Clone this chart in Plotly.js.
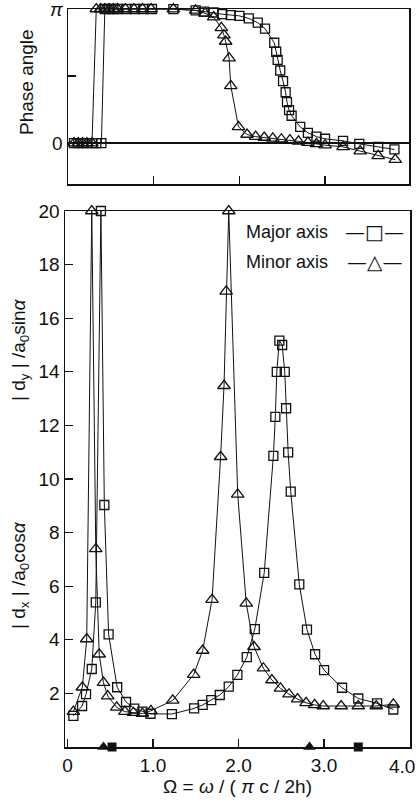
<!DOCTYPE html>
<html>
<head>
<meta charset="utf-8">
<script src="https://cdn.plot.ly/plotly-3.0.1.min.js"></script>
<style>html,body{margin:0;padding:0;background:#fff;}#chart{width:419px;height:809px;}</style>
</head>
<body>
<div id="chart"></div>
<script>
const PI = Math.PI;

// ---- Phase angle panel ----
const phaseMajorX = [0.07,0.12,0.17,0.22,0.28,0.33,0.39,0.43,0.48,0.53,0.58,0.68,0.78,0.88,0.98,1.23,1.49,1.585,1.70,1.80,1.90,2.00,2.11,2.215,2.30,2.407,2.43,2.447,2.477,2.51,2.54,2.556,2.58,2.61,2.71,2.80,2.90,3.00,3.21,3.40,3.62,3.81];
const phaseMajorY = [0,0,0,0,0,0,0,PI,PI,PI,PI,PI,PI,PI,PI,3.14,3.11,3.08,3.06,3.02,3.00,2.98,2.92,2.82,2.68,2.35,2.14,1.95,1.70,1.45,1.19,0.96,0.77,0.64,0.38,0.24,0.15,0.10,0.05,-0.02,-0.09,-0.15];
const phaseMinorX = [0.07,0.12,0.17,0.22,0.28,0.33,0.38,0.43,0.48,0.53,0.58,0.67,0.77,0.87,0.97,1.23,1.49,1.60,1.70,1.79,1.82,1.84,1.88,1.90,1.99,2.09,2.19,2.29,2.39,2.49,2.59,2.69,2.80,2.90,3.00,3.21,3.41,3.62,3.82];
const phaseMinorY = [0,0,0,0,0,PI,PI,PI,PI,PI,PI,PI,PI,PI,PI,3.14,3.11,3.04,2.95,2.70,2.53,2.38,1.99,1.34,0.38,0.20,0.15,0.13,0.11,0.09,0.07,0.04,0.01,-0.02,-0.05,-0.09,-0.19,-0.30,-0.39];

// ---- Amplitude panel ----
const ampMajorX = [0.068,0.17,0.216,0.283,0.33,0.39,0.43,0.48,0.58,0.684,0.78,0.875,0.97,1.22,1.48,1.58,1.68,1.78,1.885,1.986,2.096,2.19,2.30,2.407,2.43,2.447,2.477,2.51,2.54,2.556,2.58,2.61,2.71,2.80,2.895,3.00,3.21,3.40,3.62,3.81];
const ampMajorY = [1.16,1.53,1.97,2.91,5.4,20,9.03,4.2,2.23,1.68,1.43,1.32,1.24,1.23,1.44,1.57,1.75,1.94,2.25,2.69,3.35,4.4,6.5,10.86,12.32,14.0,15.16,15.0,14.0,12.64,10.99,9.53,6.07,4.38,3.46,2.87,2.21,1.81,1.63,1.40];
const ampMinorX = [0.068,0.173,0.224,0.283,0.33,0.37,0.42,0.47,0.575,0.67,0.77,0.875,0.975,1.23,1.475,1.58,1.69,1.79,1.83,1.855,1.885,1.99,2.09,2.18,2.29,2.39,2.49,2.59,2.69,2.79,2.89,2.99,3.20,3.40,3.61,3.81];
const ampMinorY = [1.32,2.23,4.03,20,7.39,3.46,2.4,1.9,1.48,1.32,1.28,1.25,1.35,1.74,2.7,3.6,5.5,10.83,13.48,17.0,20,9.43,5.36,3.74,2.94,2.5,2.19,1.97,1.79,1.65,1.57,1.53,1.53,1.53,1.53,1.59];

// resonance markers on the frequency axis
const resMinorX = [0.42, 2.83];
const resMinorY = [0, 0];
const resMajorX = [0.52, 3.40];
const resMajorY = [0, 0];

const xTickVals = [0, 1, 2, 3, 4];
const xTickText = ['0', '1.0', '2.0', '3.0', ''];   // last label drawn as an annotation so it stays inside the page
const lastXTickLabel = '4.0';
const yTickVals = [2, 4, 6, 8, 10, 12, 14, 16, 18, 20];
const phaseTickVals = [0, PI / 2, PI];
const phaseTickText = ['0', '', '<i>π</i>'];

const W = 419, H = 809;
const px = v => v / W;
const py = v => 1 - v / H;

const lineStyle = {color: '#111', width: 1};
const sqMarker = {symbol: 'square-open', size: 9, color: '#111', line: {width: 1.3, color: '#111'}};
const triMarker = {symbol: 'triangle-up-open', size: 11, color: '#111', line: {width: 1.3, color: '#111'}};

const traces = [
  {x: phaseMajorX, y: phaseMajorY, xaxis: 'x', yaxis: 'y', mode: 'lines+markers', line: lineStyle, marker: sqMarker, cliponaxis: false, showlegend: false},
  {x: phaseMinorX, y: phaseMinorY, xaxis: 'x', yaxis: 'y', mode: 'lines+markers', line: lineStyle, marker: triMarker, cliponaxis: false, showlegend: false},
  {x: ampMajorX, y: ampMajorY, xaxis: 'x2', yaxis: 'y2', mode: 'lines+markers', line: lineStyle, marker: sqMarker, cliponaxis: false, showlegend: false},
  {x: ampMinorX, y: ampMinorY, xaxis: 'x2', yaxis: 'y2', mode: 'lines+markers', line: lineStyle, marker: triMarker, cliponaxis: false, showlegend: false},
  {x: resMinorX, y: resMinorY, xaxis: 'x2', yaxis: 'y2', mode: 'markers', marker: {symbol: 'triangle-up', size: 11, color: '#111'}, cliponaxis: false, showlegend: false},
  {x: resMajorX, y: resMajorY, xaxis: 'x2', yaxis: 'y2', mode: 'markers', marker: {symbol: 'square', size: 9, color: '#111'}, cliponaxis: false, showlegend: false}
];

const FONT = 'Liberation Sans, Arial, sans-serif';
const tickFont = {family: FONT, size: 19, color: '#111'};
const axCommon = {showline: true, linecolor: '#111', linewidth: 1.5, mirror: true, ticks: 'inside', ticklen: 8, tickwidth: 1.2, tickcolor: '#111', showgrid: false, zeroline: false, tickfont: tickFont, ticklabeloverflow: 'allow'};

const layout = {
  width: W, height: H,
  margin: {l: 0, r: 0, t: 0, b: 0},
  paper_bgcolor: '#fff', plot_bgcolor: '#fff',
  showlegend: false,
  xaxis: Object.assign({}, axCommon, {domain: [px(68), px(409)], anchor: 'y', range: [0, 3.98], tickvals: xTickVals, showticklabels: false}),
  yaxis: Object.assign({}, axCommon, {domain: [py(184), py(9)], anchor: 'x', range: [-0.96, PI], tickvals: phaseTickVals, ticktext: phaseTickText, zeroline: true, zerolinecolor: '#111', zerolinewidth: 1.5}),
  xaxis2: Object.assign({}, axCommon, {domain: [px(65), px(410)], anchor: 'y2', range: [-0.03, 4.005], tickvals: xTickVals, ticktext: xTickText, ticklabelstandoff: 1,
    title: {text: 'Ω = <i>ω</i> / ( <i>π</i> c / 2h)', font: {family: FONT, size: 19, color: '#111'}, standoff: 4}}),
  yaxis2: Object.assign({}, axCommon, {domain: [py(747), py(211)], anchor: 'x2', range: [0, 20], tickvals: yTickVals}),
  annotations: [
    {xref: 'paper', yref: 'paper', x: px(27), y: py(82), xanchor: 'center', yanchor: 'middle', text: 'Phase angle', textangle: -90, showarrow: false, font: {family: FONT, size: 19, color: '#111'}},
    {xref: 'paper', yref: 'paper', x: px(20), y: py(350), xanchor: 'center', yanchor: 'middle', text: '| d<sub>y</sub> | /a<sub>0</sub>sin<i>α</i>', textangle: -90, showarrow: false, font: {family: FONT, size: 19, color: '#111'}},
    {xref: 'paper', yref: 'paper', x: px(20), y: py(575), xanchor: 'center', yanchor: 'middle', text: '| d<sub>x</sub> | /a<sub>0</sub>cos<i>α</i>', textangle: -90, showarrow: false, font: {family: FONT, size: 19, color: '#111'}},
    {xref: 'paper', yref: 'paper', x: px(244), y: py(232), xanchor: 'left', yanchor: 'middle', text: 'Major axis', showarrow: false, font: {family: FONT, size: 18, color: '#111'}},
    {xref: 'paper', yref: 'paper', x: px(244), y: py(262), xanchor: 'left', yanchor: 'middle', text: 'Minor axis', showarrow: false, font: {family: FONT, size: 18, color: '#111'}},
    {xref: 'paper', yref: 'paper', x: px(374), y: py(232), xanchor: 'center', yanchor: 'middle', text: '—□—', showarrow: false, font: {family: 'DejaVu Sans, sans-serif', size: 20, color: '#111'}},
    {xref: 'paper', yref: 'paper', x: px(374), y: py(262), xanchor: 'center', yanchor: 'middle', text: '—△—', showarrow: false, font: {family: 'DejaVu Sans, sans-serif', size: 20, color: '#111'}},
    {xref: 'paper', yref: 'paper', x: px(417), y: py(766), xanchor: 'right', yanchor: 'middle', text: lastXTickLabel, showarrow: false, font: {family: FONT, size: 19, color: '#111'}}
  ]
};

Plotly.newPlot('chart', traces, layout, {displayModeBar: false, staticPlot: true});
</script>
</body>
</html>
